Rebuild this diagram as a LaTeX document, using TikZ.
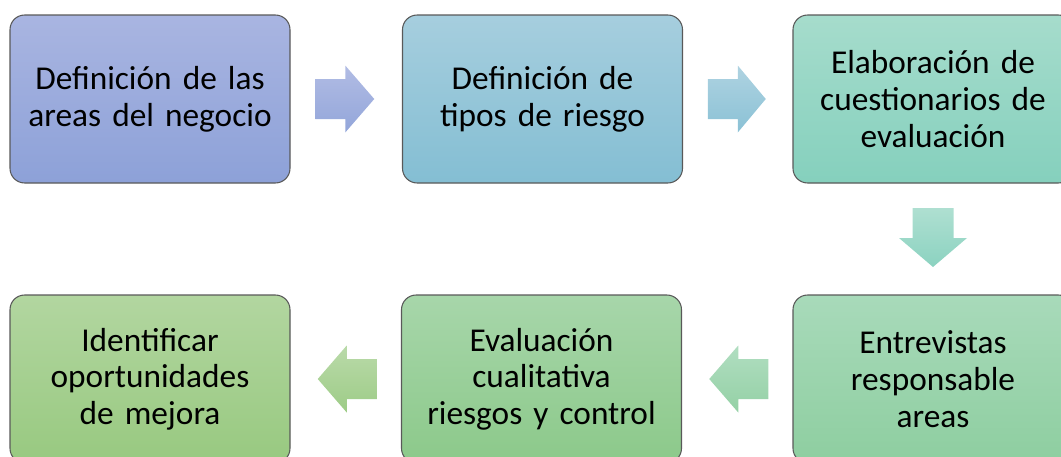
\documentclass[tikz,border=0pt]{standalone}
\usepackage{fontspec}
\setmainfont{Carlito}
\usetikzlibrary{calc}

\definecolor{boxA1}{RGB}{169,181,225}
\definecolor{boxA2}{RGB}{141,161,216}
\definecolor{boxB1}{RGB}{166,206,222}
\definecolor{boxB2}{RGB}{132,190,211}
\definecolor{boxC1}{RGB}{166,220,204}
\definecolor{boxC2}{RGB}{133,208,189}
\definecolor{boxD1}{RGB}{168,218,186}
\definecolor{boxD2}{RGB}{142,206,160}
\definecolor{boxE1}{RGB}{167,214,170}
\definecolor{boxE2}{RGB}{140,201,138}
\definecolor{boxF1}{RGB}{178,214,160}
\definecolor{boxF2}{RGB}{152,201,128}

\begin{document}
\begin{tikzpicture}[x=0.75pt, y=-0.75pt]
        \tikzset{
            stepbox/.style={draw=black!65, line width=0.8pt, rounded corners=11pt,
                minimum width=210pt, minimum height=126pt, inner sep=0pt,
                align=center, text width=200pt,
                font=\fontsize{25}{27.5}\selectfont},
        }
        \useasboundingbox (0,0) rectangle (1061,457);
        \clip (0,0) rectangle (1061,457);
        % boxes
        \node[stepbox, top color=boxA1, bottom color=boxA2] (b1) at (150,99)   {Definición de las\\areas del negocio};
        \node[stepbox, top color=boxB1, bottom color=boxB2] (b2) at (542.5,99) {Definición de\\tipos de riesgo};
        \node[stepbox, top color=boxC1, bottom color=boxC2] (b3) at (933,99)   {Elaboración de\\cuestionarios de\\evaluación};
        \node[stepbox, top color=boxD1, bottom color=boxD2] (b4) at (933,379)  {Entrevistas\\responsable\\areas};
        \node[stepbox, top color=boxE1, bottom color=boxE2] (b5) at (541.5,379) {Evaluación\\cualitativa\\riesgos y control};
        \node[stepbox, top color=boxF1, bottom color=boxF2] (b6) at (150,379)  {Identificar\\oportunidades\\de mejora};
        % block arrows
        \path (b1.east) -- (b2.west) coordinate[pos=0.5] (a1);
        \path (b2.east) -- (b3.west) coordinate[pos=0.5] (a2);
        \path (b3.south) -- (b4.north) coordinate[pos=0.5] (a3);
        \path (b4.west) -- (b5.east) coordinate[pos=0.5] (a4);
        \path (b5.west) -- (b6.east) coordinate[pos=0.5] (a5);
        \shade[top color=boxA1!90!white, bottom color=boxA2!95!white]
            ($(a1)+(-31,-20)$) -- ($(a1)+(-1,-20)$) -- ($(a1)+(-1,-33.5)$) -- ($(a1)+(28,0)$)
            -- ($(a1)+(-1,33.5)$) -- ($(a1)+(-1,20)$) -- ($(a1)+(-31,20)$) -- cycle;
        \shade[top color=boxB1!90!white, bottom color=boxB2!95!white]
            ($(a2)+(-30,-20)$) -- ($(a2)+(0,-20)$) -- ($(a2)+(0,-33.5)$) -- ($(a2)+(28,0)$)
            -- ($(a2)+(0,33.5)$) -- ($(a2)+(0,20)$) -- ($(a2)+(-30,20)$) -- cycle;
        \shade[top color=boxC1!90!white, bottom color=boxC2!95!white]
            ($(a3)+(-20.5,-31)$) -- ($(a3)+(20.5,-31)$) -- ($(a3)+(20.5,-1)$) -- ($(a3)+(34,-1)$)
            -- ($(a3)+(0,28)$) -- ($(a3)+(-34,-1)$) -- ($(a3)+(-20.5,-1)$) -- cycle;
        \shade[top color=boxD1!90!white, bottom color=boxD2!95!white]
            ($(a4)+(31,-20)$) -- ($(a4)+(1,-20)$) -- ($(a4)+(1,-33.5)$) -- ($(a4)+(-28,0)$)
            -- ($(a4)+(1,33.5)$) -- ($(a4)+(1,20)$) -- ($(a4)+(31,20)$) -- cycle;
        \shade[top color=boxF1!90!white, bottom color=boxF2!95!white]
            ($(a5)+(31,-20)$) -- ($(a5)+(1,-20)$) -- ($(a5)+(1,-33.5)$) -- ($(a5)+(-28,0)$)
            -- ($(a5)+(1,33.5)$) -- ($(a5)+(1,20)$) -- ($(a5)+(31,20)$) -- cycle;
\end{tikzpicture}
\end{document}
